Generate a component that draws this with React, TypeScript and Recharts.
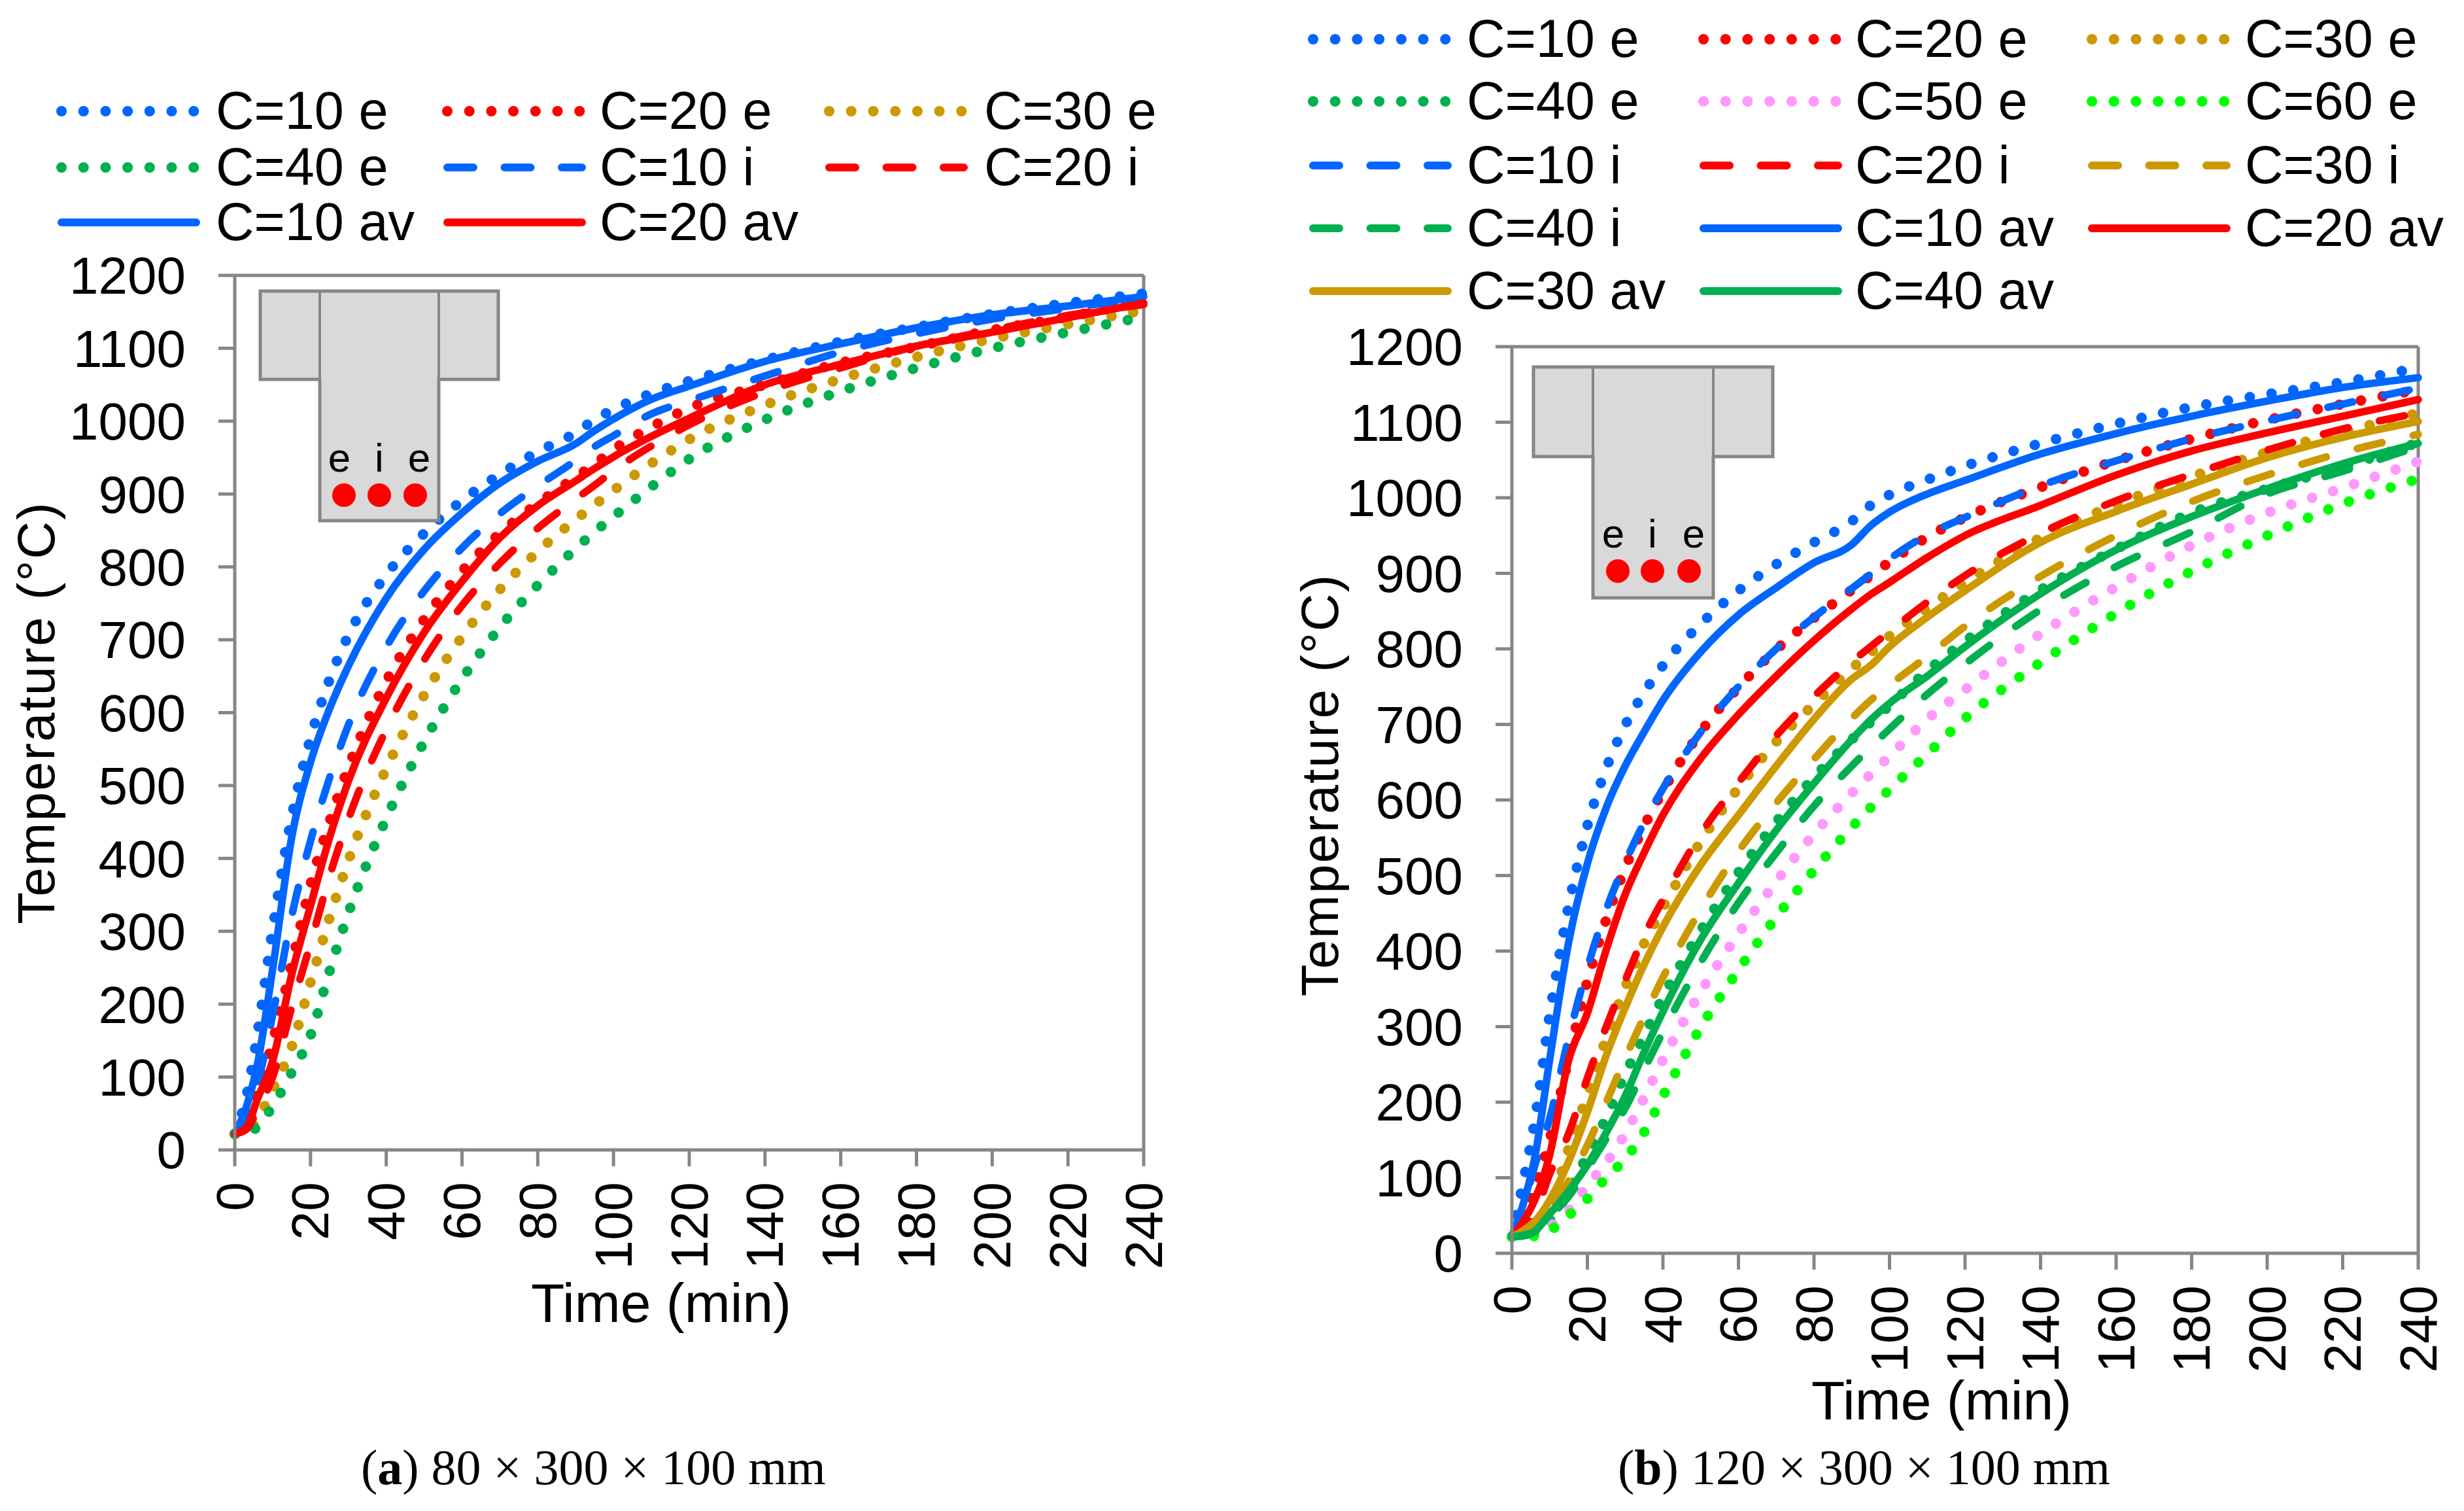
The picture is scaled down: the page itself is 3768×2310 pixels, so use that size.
import { LineChart, Line, XAxis, YAxis, ReferenceLine } from 'recharts';

const FONT = '"Liberation Sans", Arial, sans-serif';
const AXIS_GRAY = '#868686';
const BLUE = '#0066FF';
const RED = '#FF0000';
const GOLD = '#CC9900';
const GREEN = '#00B050';
const PINK = '#FF99FF';
const LIME = '#00FF00';

const xTicks = [0, 20, 40, 60, 80, 100, 120, 140, 160, 180, 200, 220, 240];
const yTicks = [0, 100, 200, 300, 400, 500, 600, 700, 800, 900, 1000, 1100, 1200];

// panel (a)
const timesA = [0, 3, 6, 10, 15, 20, 25, 30, 40, 50, 60, 70, 80, 90, 95, 100, 110, 120, 140, 160, 180, 200, 220, 240];
const a10e = [22, 72, 160, 303, 456, 565, 645, 706, 789, 846, 891, 927, 958, 984, 1002, 1016, 1038, 1055, 1084, 1109, 1129, 1147, 1162, 1175];
const a20e = [22, 42, 78, 148, 255, 364, 450, 525, 643, 728, 794, 846, 887, 923, 941, 961, 992, 1018, 1050, 1080, 1102, 1125, 1143, 1165];
const a30e = [22, 24, 42, 83, 141, 230, 318, 397, 523, 624, 704, 769, 821, 865, 885, 905, 942, 975, 1022, 1058, 1088, 1113, 1133, 1152];
const a40e = [22, 22, 32, 60, 106, 157, 245, 325, 455, 560, 646, 717, 775, 825, 848, 869, 910, 948, 1002, 1041, 1073, 1100, 1122, 1143];
const a10i = [22, 50, 92, 185, 320, 424, 510, 583, 690, 767, 826, 873, 911, 946, 965, 980, 1010, 1028, 1062, 1095, 1120, 1140, 1155, 1170];
const a20i = [22, 28, 55, 100, 195, 283, 375, 454, 577, 672, 747, 805, 853, 893, 912, 932, 966, 995, 1040, 1073, 1103, 1125, 1145, 1160];
const a10av = [22, 58, 118, 248, 428, 532, 605, 664, 757, 824, 874, 915, 945, 969, 987, 1003, 1030, 1048, 1082, 1106, 1128, 1146, 1158, 1171];
const a20av = [22, 30, 70, 122, 240, 335, 428, 506, 620, 710, 780, 840, 884, 918, 935, 951, 979, 1004, 1050, 1078, 1103, 1122, 1142, 1162];

// panel (b)
const timesB = [0, 3, 6, 10, 15, 20, 25, 30, 35, 40, 50, 60, 70, 80, 90, 95, 100, 110, 120, 140, 160, 180, 200, 220, 240];
const b10e = [22, 94, 174, 315, 459, 566, 642, 699, 742, 778, 833, 877, 912, 941, 969, 990, 1004, 1024, 1042, 1072, 1098, 1120, 1137, 1153, 1172];
const b20e = [22, 40, 85, 150, 258, 360, 442, 510, 565, 612, 690, 749, 799, 841, 878, 897, 915, 948, 974, 1014, 1049, 1078, 1103, 1124, 1143];
const b30e = [22, 25, 35, 60, 138, 210, 285, 352, 410, 457, 545, 616, 677, 727, 774, 795, 817, 854, 888, 947, 991, 1028, 1060, 1087, 1112];
const b40e = [22, 23, 25, 42, 82, 130, 180, 237, 288, 339, 427, 504, 571, 630, 680, 703, 725, 771, 810, 878, 932, 980, 1012, 1041, 1073];
const b50e = [22, 23, 24, 35, 56, 90, 120, 158, 206, 256, 346, 423, 492, 555, 609, 634, 658, 707, 746, 820, 882, 937, 980, 1013, 1048];
const b60e = [22, 22, 23, 30, 50, 72, 100, 125, 160, 208, 299, 375, 445, 507, 564, 590, 614, 661, 708, 782, 847, 903, 950, 992, 1025];
const b10i = [22, 60, 115, 178, 285, 378, 455, 517, 570, 615, 690, 750, 800, 842, 880, 899, 919, 951, 974, 1016, 1049, 1078, 1102, 1124, 1145];
const b20i = [22, 28, 50, 105, 158, 232, 300, 361, 420, 468, 555, 623, 685, 737, 783, 803, 823, 862, 897, 953, 996, 1031, 1063, 1091, 1112];
const b30i = [22, 24, 35, 58, 95, 143, 200, 258, 313, 365, 455, 532, 596, 654, 708, 732, 752, 790, 830, 896, 950, 995, 1030, 1060, 1084];
const b40i = [22, 23, 28, 48, 75, 112, 152, 192, 243, 293, 385, 464, 530, 592, 645, 670, 694, 740, 780, 852, 909, 955, 1005, 1035, 1068];
const b10av = [22, 65, 125, 256, 411, 516, 590, 645, 690, 732, 796, 845, 881, 914, 938, 963, 981, 1005, 1023, 1058, 1085, 1108, 1128, 1146, 1159];
const b20av = [22, 42, 70, 130, 255, 318, 402, 475, 530, 580, 655, 713, 764, 811, 853, 872, 888, 921, 950, 990, 1030, 1062, 1086, 1108, 1130];
const b30av = [22, 30, 42, 70, 121, 187, 262, 325, 382, 432, 514, 580, 645, 707, 760, 778, 803, 842, 877, 941, 982, 1018, 1053, 1080, 1101];
const b40av = [22, 24, 29, 52, 82, 117, 160, 208, 266, 320, 415, 490, 560, 622, 680, 706, 728, 764, 803, 873, 931, 975, 1012, 1045, 1072];

type Kind = 'dot' | 'dash' | 'solid';
interface Series {
  name: string;
  values: number[];
  color: string;
  kind: Kind;
}

const seriesA: Series[] = [
  { name: 'C=10 e', values: a10e, color: BLUE, kind: 'dot' },
  { name: 'C=20 e', values: a20e, color: RED, kind: 'dot' },
  { name: 'C=30 e', values: a30e, color: GOLD, kind: 'dot' },
  { name: 'C=40 e', values: a40e, color: GREEN, kind: 'dot' },
  { name: 'C=10 i', values: a10i, color: BLUE, kind: 'dash' },
  { name: 'C=20 i', values: a20i, color: RED, kind: 'dash' },
  { name: 'C=10 av', values: a10av, color: BLUE, kind: 'solid' },
  { name: 'C=20 av', values: a20av, color: RED, kind: 'solid' },
];

const seriesB: Series[] = [
  { name: 'C=10 e', values: b10e, color: BLUE, kind: 'dot' },
  { name: 'C=20 e', values: b20e, color: RED, kind: 'dot' },
  { name: 'C=30 e', values: b30e, color: GOLD, kind: 'dot' },
  { name: 'C=40 e', values: b40e, color: GREEN, kind: 'dot' },
  { name: 'C=50 e', values: b50e, color: PINK, kind: 'dot' },
  { name: 'C=60 e', values: b60e, color: LIME, kind: 'dot' },
  { name: 'C=10 i', values: b10i, color: BLUE, kind: 'dash' },
  { name: 'C=20 i', values: b20i, color: RED, kind: 'dash' },
  { name: 'C=30 i', values: b30i, color: GOLD, kind: 'dash' },
  { name: 'C=40 i', values: b40i, color: GREEN, kind: 'dash' },
  { name: 'C=10 av', values: b10av, color: BLUE, kind: 'solid' },
  { name: 'C=20 av', values: b20av, color: RED, kind: 'solid' },
  { name: 'C=30 av', values: b30av, color: GOLD, kind: 'solid' },
  { name: 'C=40 av', values: b40av, color: GREEN, kind: 'solid' },
];

const buildRows = (times: number[], series: Series[]) =>
  times.map((t, i) => {
    const row: Record<string, number> = { t };
    series.forEach((s) => {
      row[s.name] = s.values[i];
    });
    return row;
  });

const lineStyle = (kind: Kind) => {
  if (kind === 'dot') return { strokeWidth: 16, strokeDasharray: '0.1 33.6' };
  if (kind === 'dash') return { strokeWidth: 11.5, strokeDasharray: '39 49' };
  return { strokeWidth: 11.5 };
};

const XTick = ({ x, y, payload }: any) => (
  <text
    x={x}
    y={y}
    transform={`rotate(-90 ${x} ${y})`}
    textAnchor="end"
    dominantBaseline="central"
    fontSize={80}
    fontFamily={FONT}
    fill="#000"
  >
    {payload.value}
  </text>
);

interface PanelProps {
  rows: Record<string, number>[];
  series: Series[];
  box: { left: number; top: number; width: number; height: number };
  margin: { top: number; left: number; right: number; bottom: number };
  yLabelDy: number;
  yLabelOffset: number;
  xLabelDx: number;
  xLabelOffset: number;
}

function Panel({ rows, series, box, margin, yLabelDy, yLabelOffset, xLabelDx, xLabelOffset }: PanelProps) {
  const axisStroke = { stroke: AXIS_GRAY, strokeWidth: 5 };
  return (
    <div style={{ position: 'absolute', ...box }}>
      <LineChart width={box.width} height={box.height} data={rows} margin={margin}>
        <XAxis
          dataKey="t"
          type="number"
          domain={[0, 240]}
          ticks={xTicks}
          interval={0}
          height={240}
          tick={<XTick />}
          tickSize={25}
          tickMargin={24}
          axisLine={axisStroke}
          tickLine={axisStroke}
          label={{ value: 'Time (min)', position: 'insideBottom', offset: xLabelOffset, dx: xLabelDx, fontSize: 84, fontFamily: FONT, fill: '#000' }}
        />
        <YAxis
          type="number"
          domain={[0, 1200]}
          ticks={yTicks}
          interval={0}
          width={340}
          tickSize={25}
          tickMargin={50}
          axisLine={axisStroke}
          tickLine={axisStroke}
          tick={{ fontSize: 80, fontFamily: FONT, fill: '#000' }}
          label={{ value: 'Temperature (°C)', angle: -90, position: 'insideLeft', offset: yLabelOffset, dy: yLabelDy, fontSize: 80, fontFamily: FONT, fill: '#000', style: { textAnchor: 'middle', letterSpacing: 2 } }}
        />
        <ReferenceLine y={1200} stroke={AXIS_GRAY} strokeWidth={5} />
        <ReferenceLine x={240} stroke={AXIS_GRAY} strokeWidth={5} />
        {series.map((s) => (
          <Line
            key={s.name}
            type="monotone"
            dataKey={s.name}
            stroke={s.color}
            strokeLinecap="round"
            dot={false}
            isAnimationActive={false}
            {...lineStyle(s.kind)}
          />
        ))}
      </LineChart>
    </div>
  );
}

// legend is laid out by hand because the columns do not follow a flow layout
function LegendEntry({ s, x, y, textX }: { s: Series; x: number; y: number; textX: number }) {
  let dash: string | undefined;
  if (s.kind === 'dot') dash = '0.1 33.6';
  if (s.kind === 'dash') dash = '40 47.5';
  return (
    <g>
      <line
        x1={x + 6}
        x2={x + 212}
        y1={y}
        y2={y}
        stroke={s.color}
        strokeLinecap="round"
        strokeWidth={s.kind === 'dot' ? 16 : 12}
        strokeDasharray={dash}
      />
      <text x={textX - 3} y={y + 27} fontSize={81} fontFamily={FONT} fill="#000">
        {s.name}
      </text>
    </g>
  );
}

function Inset({ left, right, webL, webR, top, flangeB, webB, labelX, dotX, labelY, dotY }: any) {
  return (
    <g>
      <path
        d={`M${left} ${top} H${right} V${flangeB} H${webR} V${webB} H${webL} V${flangeB} H${left} Z`}
        fill="#D9D9D9"
        stroke={AXIS_GRAY}
        strokeWidth={5}
      />
      <line x1={webL} x2={webL} y1={top} y2={flangeB} stroke={AXIS_GRAY} strokeWidth={4} />
      <line x1={webR} x2={webR} y1={top} y2={flangeB} stroke={AXIS_GRAY} strokeWidth={4} />
      {['e', 'i', 'e'].map((c, i) => (
        <text key={i} x={labelX[i]} y={labelY} textAnchor="middle" fontSize={62} fontFamily={FONT} fill="#000">
          {c}
        </text>
      ))}
      {dotX.map((cx: number) => (
        <circle key={cx} cx={cx} cy={dotY} r={18} fill={RED} />
      ))}
    </g>
  );
}

const legendColsA = [88, 678, 1262];
const legendTextA = [333, 920, 1508];
const legendRowsA = [170, 256, 340];
const legendColsB = [2002, 2599, 3193];
const legendTextB = [2246, 2840, 3436];
const legendRowsB = [60, 155, 253, 349, 445];

const captionStyle = {
  position: 'absolute' as const,
  fontFamily: '"Liberation Serif", serif',
  fontSize: 76,
  color: '#000',
  whiteSpace: 'nowrap' as const,
};

export default function App() {
  return (
    <div style={{ position: 'absolute', left: 0, top: 0, width: 3768, height: 2310, background: '#fff', overflow: 'hidden' }}>
      <Panel
        rows={buildRows(timesA, seriesA)}
        series={seriesA}
        box={{ left: 0, top: 0, width: 1880, height: 2150 }}
        margin={{ top: 421, left: 19, right: 131, bottom: 152 }}
        yLabelDy={0}
        yLabelOffset={36}
        xLabelDx={-43}
        xLabelOffset={-23}
      />
      <Panel
        rows={buildRows(timesB, seriesB)}
        series={seriesB}
        box={{ left: 1950, top: 0, width: 1818, height: 2250 }}
        margin={{ top: 530, left: 22, right: 70, bottom: 94 }}
        yLabelDy={-23}
        yLabelOffset={46}
        xLabelDx={-36}
        xLabelOffset={-14}
      />
      <svg width={3768} height={2310} style={{ position: 'absolute', left: 0, top: 0 }}>
        {seriesA.map((s, i) => (
          <LegendEntry key={s.name} s={s} x={legendColsA[i % 3]} textX={legendTextA[i % 3]} y={legendRowsA[Math.floor(i / 3)]} />
        ))}
        {seriesB.map((s, i) => (
          <LegendEntry key={s.name} s={s} x={legendColsB[i % 3]} textX={legendTextB[i % 3]} y={legendRowsB[Math.floor(i / 3)]} />
        ))}
        <Inset left={398} right={762} webL={489} webR={671} top={445} flangeB={580} webB={796} labelX={[519, 580, 641]} dotX={[526, 580, 635]} labelY={721} dotY={757} />
        <Inset left={2345} right={2711} webL={2436} webR={2620} top={561} flangeB={698} webB={914} labelX={[2467, 2527, 2590]} dotX={[2474, 2527, 2583]} labelY={837} dotY={873} />
      </svg>
      <div style={{ ...captionStyle, left: 552, top: 2200 }}>
        (<b>a</b>) 80 × 300 × 100 mm
      </div>
      <div style={{ ...captionStyle, left: 2474, top: 2200 }}>
        (<b>b</b>) 120 × 300 × 100 mm
      </div>
    </div>
  );
}
